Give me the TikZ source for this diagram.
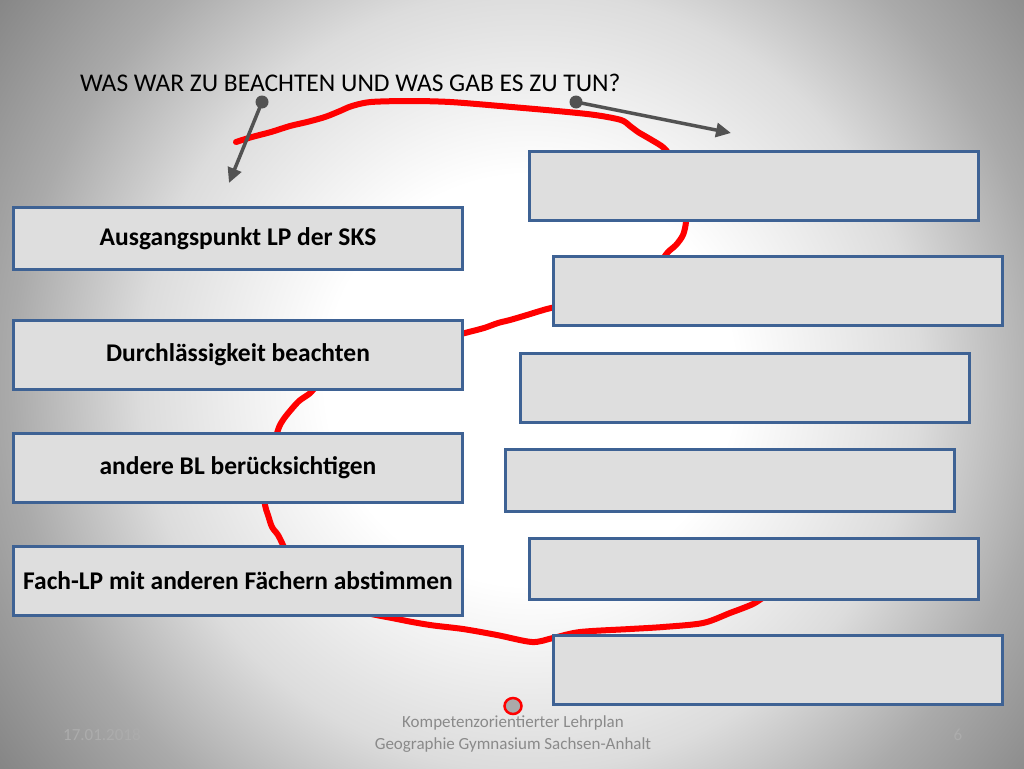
\documentclass[tikz,border=0pt]{standalone}
\usepackage{fontspec}
\setmainfont{Carlito}
\usetikzlibrary{arrows.meta}
\definecolor{boxfill}{RGB}{222,222,222}
\definecolor{boxline}{RGB}{62,98,148}
\definecolor{arrowgray}{RGB}{82,82,82}
\definecolor{footgray}{RGB}{138,138,138}
\definecolor{dategray}{RGB}{172,172,172}
\definecolor{blobgray}{RGB}{170,170,170}
\definecolor{bgA}{RGB}{220,220,220}
\definecolor{bgB}{RGB}{170,170,170}
\definecolor{bgC}{RGB}{130,130,130}
\pgfdeclareradialshading{bgshade}{\pgfpoint{0pt}{0pt}}{color(0pt)=(white); color(205pt)=(white); color(390pt)=(bgA); color(520pt)=(bgB); color(670pt)=(bgC); color(760pt)=(bgC)}
\begin{document}
\begin{tikzpicture}[x=1pt,y=-1pt,
  box/.style={draw=boxline, line width=3pt, fill=boxfill, inner sep=0pt,
    minimum width=449, font=\fontsize{25.5}{30}\selectfont\bfseries, text=black},
  garrow/.style={draw=arrowgray, line width=3.5pt, -{Triangle[length=15pt,width=14pt]}},
  redline/.style={draw=red, line width=6pt, line cap=round, line join=round},
  foot/.style={font=\fontsize{17}{20}\selectfont, text=footgray, inner sep=0pt}]
\useasboundingbox (0,0) rectangle (1024,768);
\begin{scope}
  \clip (0,0) rectangle (1024,768);
  \node[inner sep=0pt, outer sep=0pt] (bg) at (530,380) {\pgfuseshading{bgshade}};
\end{scope}
% red freehand curve (drawn first, boxes cover it)
\draw[redline] plot[smooth, tension=0.5] coordinates {
  (236,142) (252,137) (271,132) (290,126) (307,122) (325,117) (340,111) (352,106)
  (371,102) (410,101) (450,102) (500,106) (557,111) (595,115) (621,120) (630,126)
  (638,132) (650,139) (664,148) (672,160) (680,185) (686,205) (686,222) (683,235)
  (676,245) (668,252) (660,262) (640,280) (610,295) (575,303) (551,308) (540,311)
  (527,315) (510,320) (498,323) (484,328) (465,333) (420,345) (360,360) (330,375)
  (315,388) (309,394) (299,401) (290,411) (283,420) (278,430) (270,460) (265,490)
  (265,505) (268,515) (272,527) (278,535) (283,545) (300,580) (350,608) (397,619)
  (430,625) (463,629) (497,635) (532,642) (553,638) (580,632) (630,629) (663,627)
  (703,623) (730,613) (753,604) (765,596)};
% small red loop near bottom
\draw[draw=red, line width=2.5pt, fill=blobgray] (513,706) ellipse (8.5 and 8);
% title
\node[anchor=base west, inner sep=0pt, font=\fontsize{25.5}{30}\selectfont] (title) at (80,91) {WAS WAR ZU BEACHTEN UND WAS GAB ES ZU TUN?};
% left boxes
\node[box, minimum height=62] (L1) at (238,238.5) {Ausgangspunkt LP der SKS};
\node[box, minimum height=69] (L2) at (238,355) {Durchlässigkeit beachten};
\node[box, minimum height=69] (L3) at (238,468) {andere BL berücksichtigen};
\node[box, minimum height=69] (L4) at (238,581) {Fach-LP mit anderen Fächern abstimmen};
% right boxes
\node[box, minimum height=69] (R1) at (754,186) {};
\node[box, minimum height=69] (R2) at (778,291) {};
\node[box, minimum height=69] (R3) at (745,388) {};
\node[box, minimum height=62] (R4) at (730,480.5) {};
\node[box, minimum height=61] (R5) at (754,569) {};
\node[box, minimum height=69] (R6) at (778,670) {};
% arrows
\coordinate (a1s) at (262,102);
\coordinate (a1e) at (229,183);
\coordinate (a2s) at (576,102);
\coordinate (a2e) at (731,133);
\draw[garrow] (a1s) -- (a1e);
\draw[garrow] (a2s) -- (a2e);
\fill[arrowgray] (a1s) circle (6.5);
\fill[arrowgray] (a2s) circle (6.5);
% footer
\node[foot, anchor=base] (f1) at (513,727) {Kompetenzorientierter Lehrplan};
\node[foot, anchor=base] (f2) at (513,749) {Geographie Gymnasium Sachsen-Anhalt};
\node[foot, anchor=base west, text=dategray] (date) at (63,740) {17.01.2018};
\node[foot, anchor=base, text=dategray] (page) at (958,740) {6};
\end{tikzpicture}
\end{document}
